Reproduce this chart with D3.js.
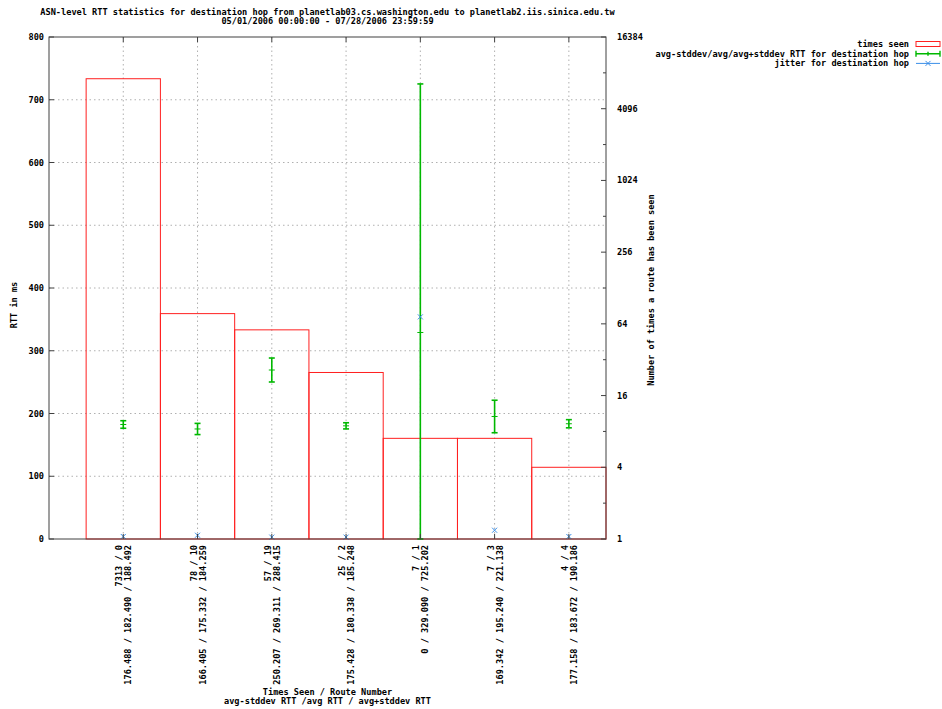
<!DOCTYPE html>
<html>
<head>
<meta charset="utf-8">
<script src="https://cdn.jsdelivr.net/npm/d3@7"></script>
<style>
  body { margin: 0; background: #fff; }
  text { font-family: "DejaVu Sans Mono", monospace; font-size: 8.6px; font-weight: bold; fill: #000; }
</style>
</head>
<body>
<svg id="chart" width="942" height="709"></svg>
<script>
/*
** RTT statistics per route, drawn gnuplot style.
*/

// data
var timesSeen   = [7313, 78, 57, 25, 7, 7, 4];
var routeNumber = [0, 10, 19, 2, 1, 3, 4];
var rttLow  = [176.488, 166.405, 250.207, 175.428, 0, 169.342, 177.158];
var rttAvg  = [182.490, 175.332, 269.311, 180.338, 329.090, 195.240, 183.672];
var rttHigh = [188.492, 184.259, 288.415, 185.248, 725.202, 221.138, 190.186];
var jitter  = [4, 6, 3, 3, 354, 14, 4];
var leftTicks  = [0, 100, 200, 300, 400, 500, 600, 700, 800];
var rightTicks = [1, 4, 16, 64, 256, 1024, 4096, 16384];
var minorTicks = [2, 8, 32, 128, 512, 2048, 8192];

var red = "#ff2020", green = "#00b800", blue = "#3a8ee8", gridCol = "#b0b0b0";

var svg = d3.select("#chart");
var pLeft = 49, pRight = 606, pTop = 37, pBottom = 539;

var x = d3.scaleLinear().domain([-1, 6.5]).range([pLeft, pRight]);
var yL = d3.scaleLinear().domain([0, 800]).range([pBottom, pTop]);
var yR = d3.scaleLog().base(2).domain([1, 16384]).range([pBottom, pTop]);
var idx = d3.range(timesSeen.length);
var fmt = function(v) {return v === 0 ? "0" : d3.format(".3f")(v);};

// titles
svg.append("text").attr("x", 327.5).attr("y", 15).attr("text-anchor", "middle")
	.text("ASN-level RTT statistics for destination hop from planetlab03.cs.washington.edu to planetlab2.iis.sinica.edu.tw");
svg.append("text").attr("x", 327.5).attr("y", 24).attr("text-anchor", "middle")
	.text("05/01/2006 00:00:00 - 07/28/2006 23:59:59");

// grid
var grid = svg.append("g").attr("stroke", gridCol).attr("stroke-dasharray", "1.5,3");
grid.selectAll("line.h").data(leftTicks.slice(1, -1)).enter().append("line")
	.attr("x1", pLeft).attr("x2", pRight)
	.attr("y1", function(d) {return yL(d);}).attr("y2", function(d) {return yL(d);});
grid.selectAll("line.v").data(idx).enter().append("line")
	.attr("y1", pTop).attr("y2", pBottom)
	.attr("x1", function(d) {return x(d);}).attr("x2", function(d) {return x(d);});

// times seen boxes
svg.append("g").selectAll("rect").data(idx).enter().append("rect")
	.attr("x", function(d) {return x(d - 0.5);})
	.attr("width", function(d) {return x(d + 0.5) - x(d - 0.5);})
	.attr("y", function(d) {return yR(timesSeen[d]);})
	.attr("height", function(d) {return pBottom - yR(timesSeen[d]);})
	.attr("fill", "none").attr("stroke", red).attr("stroke-width", 1);

// error bars
var eb = svg.append("g").attr("stroke", green).attr("stroke-width", 1.6);
idx.forEach(function(i) {
	var cx = x(i);
	eb.append("line").attr("x1", cx).attr("x2", cx).attr("y1", yL(rttLow[i])).attr("y2", yL(rttHigh[i]));
	[rttLow[i], rttHigh[i]].forEach(function(v) {
		eb.append("line").attr("x1", cx - 3).attr("x2", cx + 3).attr("y1", yL(v)).attr("y2", yL(v));
	});
	eb.append("line").attr("x1", cx - 3).attr("x2", cx + 3).attr("y1", yL(rttAvg[i])).attr("y2", yL(rttAvg[i]))
		.attr("stroke-width", 1);
});

// jitter points
var jp = svg.append("g").attr("stroke", blue).attr("stroke-width", 1);
idx.forEach(function(i) {
	var cx = x(i), cy = yL(jitter[i]);
	jp.append("path").attr("d", "M" + (cx - 2.5) + "," + (cy - 2.5) + "L" + (cx + 2.5) + "," + (cy + 2.5)
		+ "M" + (cx - 2.5) + "," + (cy + 2.5) + "L" + (cx + 2.5) + "," + (cy - 2.5));
});

// border
svg.append("rect").attr("x", pLeft).attr("y", pTop).attr("width", pRight - pLeft).attr("height", pBottom - pTop)
	.attr("fill", "none").attr("stroke", "#404040").attr("stroke-width", 1);

// ticks
var ticks = svg.append("g").attr("stroke", "#404040");
leftTicks.forEach(function(t) {
	ticks.append("line").attr("x1", pLeft).attr("x2", pLeft + 5).attr("y1", yL(t)).attr("y2", yL(t));
	svg.append("text").attr("x", 44).attr("y", yL(t)).attr("dy", "0.35em")
		.attr("text-anchor", "end").text(t);
});
rightTicks.forEach(function(t) {
	ticks.append("line").attr("x1", pRight - 5).attr("x2", pRight).attr("y1", yR(t)).attr("y2", yR(t));
	svg.append("text").attr("x", 617).attr("y", yR(t)).attr("dy", "0.35em").text(t);
});
minorTicks.forEach(function(t) {
	ticks.append("line").attr("x1", pRight - 3).attr("x2", pRight).attr("y1", yR(t)).attr("y2", yR(t));
});
idx.forEach(function(i) {
	ticks.append("line").attr("x1", x(i)).attr("x2", x(i)).attr("y1", pBottom).attr("y2", pBottom - 5);
	ticks.append("line").attr("x1", x(i)).attr("x2", x(i)).attr("y1", pTop).attr("y2", pTop + 5);
});

// x tick labels, rotated, two lines
idx.forEach(function(i) {
	var l1 = timesSeen[i] + " / " + routeNumber[i];
	var l2 = fmt(rttLow[i]) + " / " + fmt(rttAvg[i]) + " / " + fmt(rttHigh[i]);
	[[l1, -4], [l2, 5]].forEach(function(p) {
		var px = x(i) + p[1] + 3, py = 545;
		svg.append("text").attr("text-anchor", "end")
			.attr("transform", "translate(" + px + "," + py + ") rotate(-90)")
			.text(p[0]);
	});
});

// axis titles
svg.append("text").attr("text-anchor", "middle")
	.attr("transform", "translate(17,305) rotate(-90)").text("RTT in ms");
svg.append("text").attr("text-anchor", "middle")
	.attr("transform", "translate(654,290) rotate(-90)").text("Number of times a route has been seen");
svg.append("text").attr("x", 327.5).attr("y", 695).attr("text-anchor", "middle").text("Times Seen / Route Number");
svg.append("text").attr("x", 327.5).attr("y", 704).attr("text-anchor", "middle")
	.text("avg-stddev RTT /avg RTT / avg+stddev RTT");

// legend
var lg = svg.append("g");
var rows = ["times seen", "avg-stddev/avg/avg+stddev RTT for destination hop", "jitter for destination hop"];
rows.forEach(function(r, k) {
	lg.append("text").attr("x", 909).attr("y", 44 + k * 9.7).attr("dy", "0.35em")
		.attr("text-anchor", "end").text(r);
});
lg.append("rect").attr("x", 916).attr("y", 41.5).attr("width", 24).attr("height", 5)
	.attr("fill", "none").attr("stroke", red);
var ly = 53.7;
lg.append("path").attr("stroke", green).attr("stroke-width", 1.4).attr("fill", "none")
	.attr("d", "M916," + ly + "H940M916," + (ly - 3) + "V" + (ly + 3) + "M940," + (ly - 3) + "V" + (ly + 3)
		+ "M928," + (ly - 2) + "V" + (ly + 2));
var jy = 63.4;
lg.append("path").attr("stroke", blue).attr("fill", "none")
	.attr("d", "M916," + jy + "H940M925.5," + (jy - 2.5) + "L930.5," + (jy + 2.5) + "M925.5," + (jy + 2.5) + "L930.5," + (jy - 2.5));
</script>
</body>
</html>
